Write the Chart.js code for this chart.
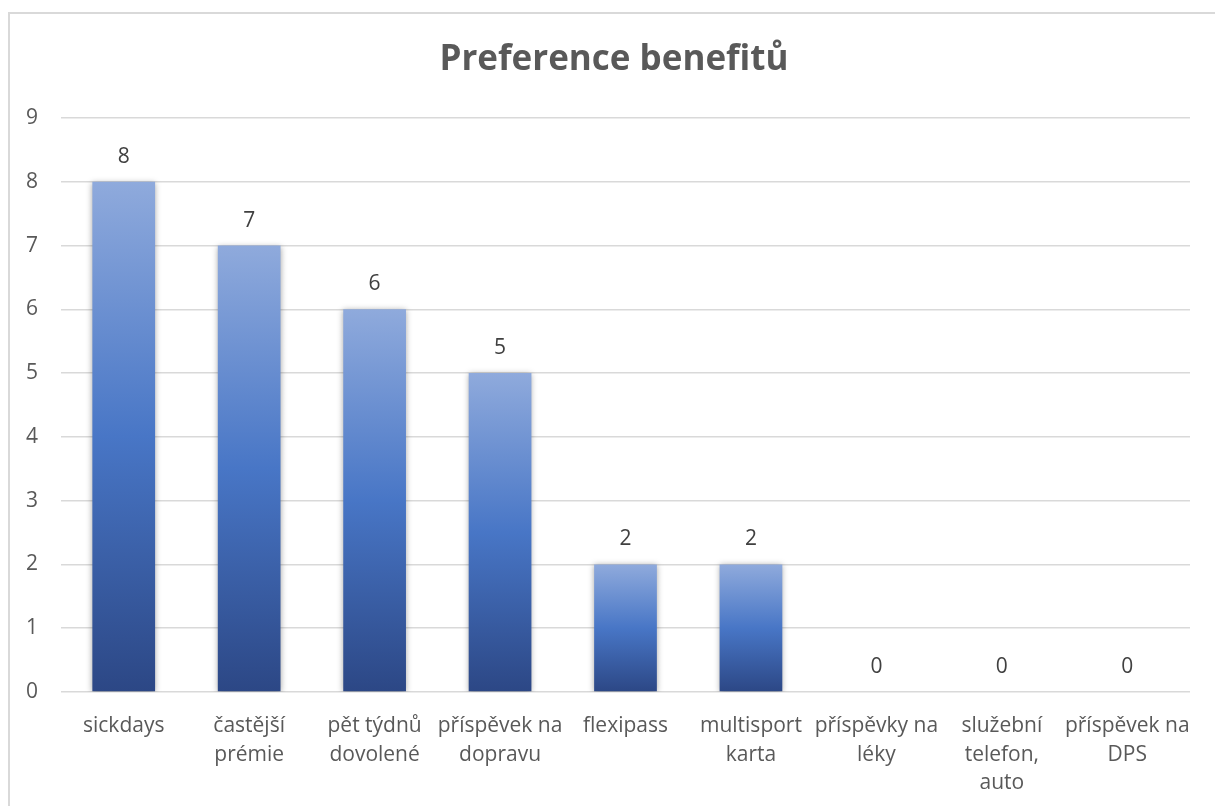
<!DOCTYPE html>
<html>
<head>
<meta charset="utf-8">
<script src="https://cdn.jsdelivr.net/npm/chart.js@4/dist/chart.umd.min.js"></script>
<style>
  html, body { margin: 0; padding: 0; background: #ffffff; }
  #wrap { position: absolute; left: 0; top: 0; width: 1215px; height: 806px; }
</style>
</head>
<body>
<div id="wrap"><canvas id="c" width="1215" height="806"></canvas></div>
<script>
// ---- data ----
const chartTitle = 'Preference benefitů';
const categories = [
  ['sickdays'],
  ['častější', 'prémie'],
  ['pět týdnů', 'dovolené'],
  ['příspěvek na', 'dopravu'],
  ['flexipass'],
  ['multisport', 'karta'],
  ['příspěvky na', 'léky'],
  ['služební', 'telefon,', 'auto'],
  ['příspěvek na', 'DPS']
];
const values = [8, 7, 6, 5, 2, 2, 0, 0, 0];
const yMin = 0, yMax = 9, yStep = 1;

const FONT = "'Open Sans', 'Segoe UI', sans-serif";

const framePlugin = {
  id: 'frame',
  beforeDraw(chart) {
    const c = chart.ctx;
    c.save();
    c.fillStyle = '#ffffff';
    c.fillRect(0, 0, chart.width, chart.height);
    c.strokeStyle = '#d9d9d9';
    c.lineWidth = 2;
    c.strokeRect(9, 13, 1300, 900);
    c.restore();
  },
  afterDraw(chart) {
    const c = chart.ctx;
    c.save();
    c.fillStyle = '#595959';
    c.font = "bold 35px " + FONT;
    c.textAlign = 'center';
    c.textBaseline = 'alphabetic';
    c.fillText(chartTitle, 614, 70);
    c.restore();
  }
};

const shadowPlugin = {
  id: 'barShadow',
  beforeDatasetsDraw(chart) {
    const c = chart.ctx;
    c.save();
    c.shadowColor = 'rgba(0,0,0,0.35)';
    c.shadowBlur = 6;
    c.shadowOffsetX = 0;
    c.shadowOffsetY = 1;
  },
  afterDatasetsDraw(chart) {
    chart.ctx.restore();
  }
};

const labelPlugin = {
  id: 'valueLabels',
  afterDatasetsDraw(chart) {
    const c = chart.ctx;
    const meta = chart.getDatasetMeta(0);
    c.save();
    c.fillStyle = '#404040';
    c.font = "21px " + FONT;
    c.textAlign = 'center';
    c.textBaseline = 'middle';
    meta.data.forEach((bar, i) => {
      const v = chart.data.datasets[0].data[i];
      c.fillText(String(v), bar.x, bar.y - 25);
    });
    c.restore();
  }
};

new Chart(document.getElementById('c'), {
  type: 'bar',
  data: {
    labels: categories,
    datasets: [{
      data: values,
      backgroundColor(ctx) {
        const chart = ctx.chart;
        const sc = chart.scales;
        if (!chart.chartArea || !sc || !sc.y) return '#4472c4';
        const top = sc.y.getPixelForValue(ctx.raw);
        const base = sc.y.getPixelForValue(0);
        if (!isFinite(top) || Math.abs(base - top) < 1) return '#4472c4';
        const g = chart.ctx.createLinearGradient(0, top, 0, base);
        g.addColorStop(0, '#8faadc');
        g.addColorStop(0.5, '#4876c6');
        g.addColorStop(1, '#2c4785');
        return g;
      },
      borderWidth: 0,
      categoryPercentage: 1.0,
      barPercentage: 0.5
    }]
  },
  options: {
    responsive: false,
    animation: false,
    devicePixelRatio: 1,
    layout: { padding: { left: 0, right: 25, top: 118, bottom: 0 } },
    plugins: {
      legend: { display: false },
      tooltip: { enabled: false },
      title: { display: false }
    },
    scales: {
      x: {
        grid: { display: false },
        border: { display: false },
        ticks: {
          color: '#595959',
          font: { family: FONT, size: 21, lineHeight: 1.36 },
          padding: 12,
          maxRotation: 0,
          minRotation: 0,
          autoSkip: false
        },
        afterFit(scale) { scale.height = 114; }
      },
      y: {
        min: yMin,
        max: yMax,
        grid: { color: '#d9d9d9', lineWidth: 1.5, drawTicks: false },
        border: { display: false },
        ticks: {
          stepSize: yStep,
          color: '#595959',
          font: { family: FONT, size: 21 },
          padding: 23
        },
        afterFit(scale) { scale.width = 61; }
      }
    }
  },
  plugins: [framePlugin, shadowPlugin, labelPlugin]
});
</script>
</body>
</html>
